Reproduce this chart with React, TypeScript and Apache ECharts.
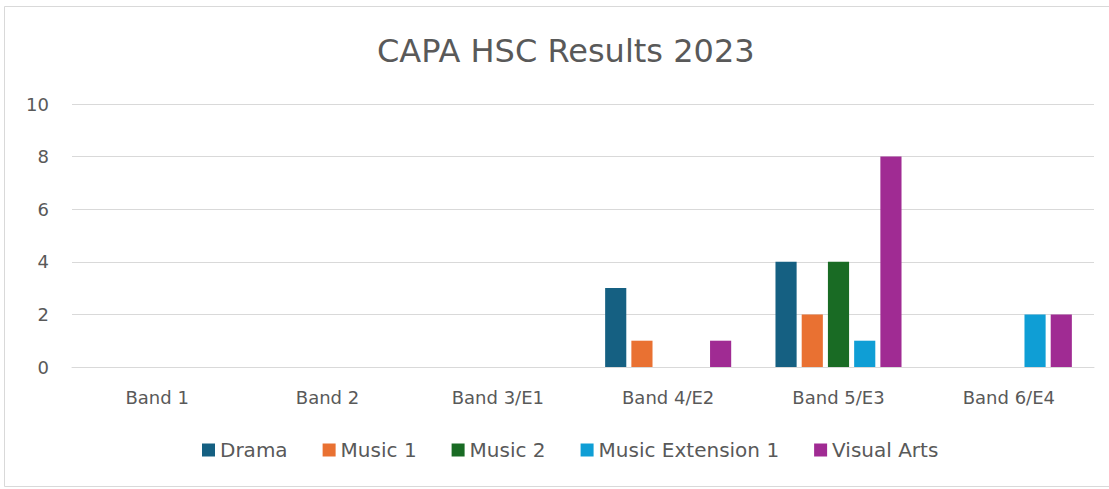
import React, { useEffect, useRef } from "react";
import * as echarts from "echarts";

const categories = ["Band 1", "Band 2", "Band 3/E1", "Band 4/E2", "Band 5/E3", "Band 6/E4"];
const drama = [0, 0, 0, 3, 4, 0];
const music1 = [0, 0, 0, 1, 2, 0];
const music2 = [0, 0, 0, 0, 4, 0];
const musicExt1 = [0, 0, 0, 0, 1, 2];
const visualArts = [0, 0, 0, 1, 8, 2];
const yTicks = { min: 0, max: 10, interval: 2 };

const seriesDefs = [
  { name: "Drama", data: drama, color: "#156082" },
  { name: "Music 1", data: music1, color: "#E97132" },
  { name: "Music 2", data: music2, color: "#196B24" },
  { name: "Music Extension 1", data: musicExt1, color: "#0F9ED5" },
  { name: "Visual Arts", data: visualArts, color: "#A02B93" },
];

const FONT = "'DejaVu Sans', 'Liberation Sans', Arial, sans-serif";
const GREY = "#595959";

export default function App() {
  const ref = useRef<HTMLDivElement>(null);
  useEffect(() => {
    if (!ref.current) return;
    const chart = echarts.init(ref.current, null, { renderer: "svg" });
    chart.setOption({
      animation: false,
      backgroundColor: "#ffffff",
      title: {
        text: "CAPA HSC Results 2023",
        left: 372,
        top: 30,
        textStyle: { fontFamily: FONT, fontSize: 32, fontWeight: "normal", color: GREY },
      },
      graphic: [
        {
          type: "rect",
          shape: { x: 4.5, y: 6.5, width: 1120, height: 480 },
          style: { fill: "none", stroke: "#d9d9d9", lineWidth: 1 },
          silent: true,
        },
      ],
      legend: {
        top: 435,
        left: 197,
        itemWidth: 13,
        itemHeight: 13,
        itemGap: 35,
        icon: "rect",
        textStyle: { fontFamily: FONT, fontSize: 20, color: GREY },
        data: seriesDefs.map((s) => s.name),
      },
      grid: { left: 72, right: 15, top: 104, bottom: 122 },
      xAxis: {
        type: "category",
        data: categories,
        axisLine: { lineStyle: { color: "#d9d9d9" } },
        axisTick: { show: false },
        axisLabel: { fontFamily: FONT, fontSize: 18, color: GREY, margin: 21 },
      },
      yAxis: {
        type: "value",
        min: yTicks.min,
        max: yTicks.max,
        interval: yTicks.interval,
        axisLine: { show: false },
        axisTick: { show: false },
        splitLine: { lineStyle: { color: "#d9d9d9" } },
        axisLabel: { fontFamily: FONT, fontSize: 18, color: GREY, margin: 23 },
      },
      series: seriesDefs.map((s) => ({
        name: s.name,
        type: "bar",
        data: s.data,
        barGap: "24%",
        barCategoryGap: "26%",
        itemStyle: { color: s.color },
      })),
    });
    return () => chart.dispose();
  }, []);
  return <div ref={ref} style={{ position: "fixed", left: 0, top: 0, width: 1109, height: 489 }} />;
}
